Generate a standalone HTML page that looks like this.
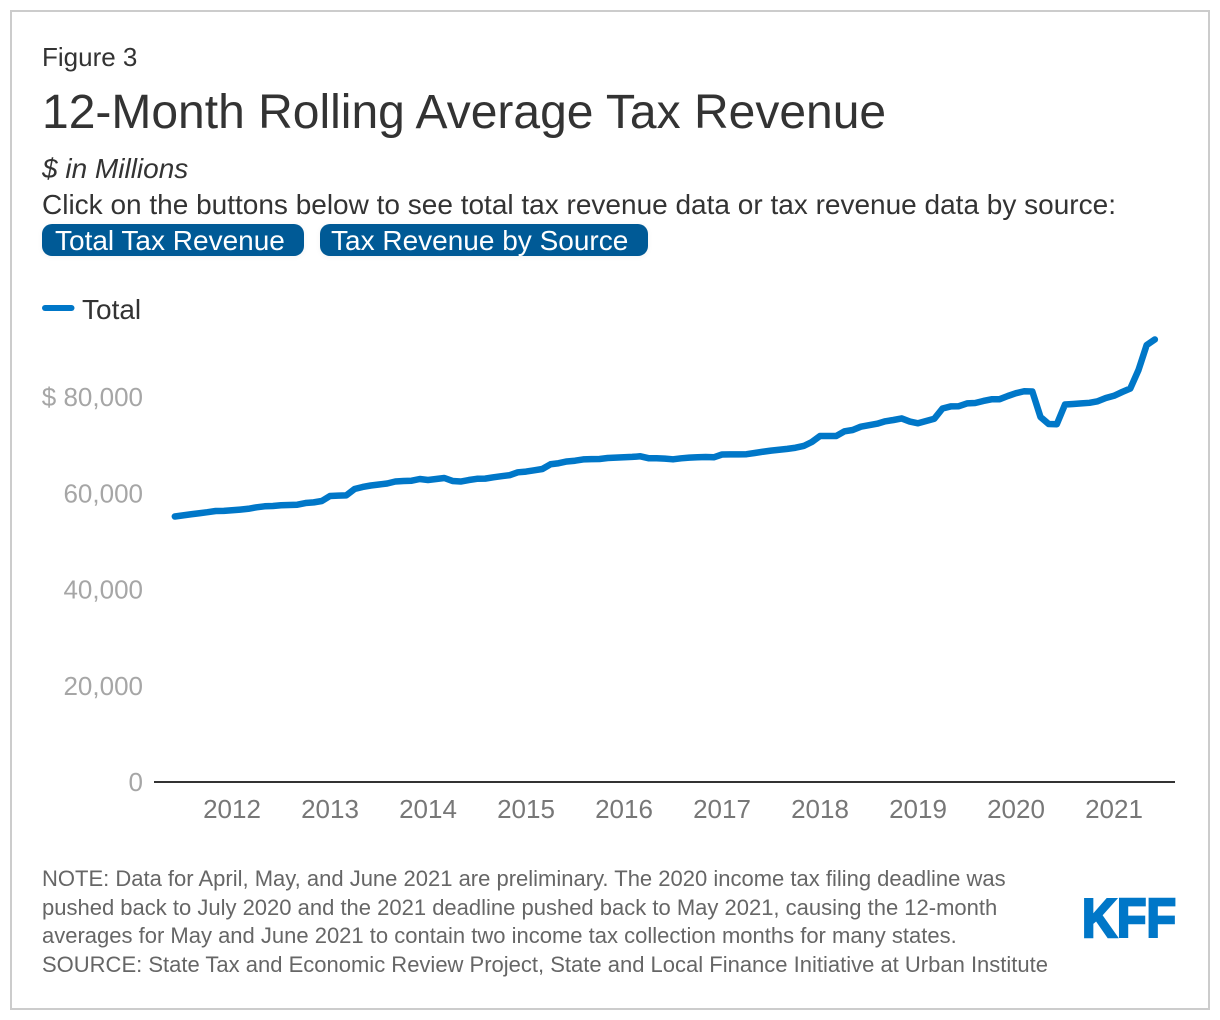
<!DOCTYPE html>
<html lang="en">
<head>
<meta charset="utf-8">
<title>12-Month Rolling Average Tax Revenue</title>
<style>
html,body{margin:0;padding:0;background:#fff;width:1220px;height:1020px;overflow:hidden;font-family:"Liberation Sans",sans-serif;}
#frame{position:absolute;left:10px;top:10px;width:1196px;height:996px;border:2px solid #ccc;background:#fff;}
.t{position:absolute;white-space:nowrap;color:#333;line-height:1;}
.btn{position:absolute;top:224px;height:32px;background:#005a96;border-radius:10px;color:#fff;font-size:28px;line-height:33px;white-space:nowrap;box-sizing:border-box;box-shadow:0 1px 6px rgba(0,0,0,.05);font-family:"Liberation Sans",sans-serif;border:0;padding:0;text-align:left;}
#chart{position:absolute;left:0;top:0;}
</style>
</head>
<body>
<div id="frame"></div>
<div class="t" style="left:42px;top:44px;font-size:26px">Figure 3</div>
<div class="t" style="left:42px;top:89px;font-size:48px">12-Month Rolling Average Tax Revenue</div>
<div class="t" style="left:42px;top:155px;font-size:28px;font-style:italic">$ in Millions</div>
<div class="t" style="left:42px;top:191px;font-size:28px">Click on the buttons below to see total tax revenue data or tax revenue data by source:</div>
<button class="btn" style="left:42px;width:262px;padding-left:13px">Total Tax Revenue</button>
<button class="btn" style="left:320px;width:328px;padding-left:11px">Tax Revenue by Source</button>

<svg id="chart" width="1220" height="1020" viewBox="0 0 1220 1020" xmlns="http://www.w3.org/2000/svg">
  <line x1="45" y1="308" x2="71.5" y2="308" stroke="#0077c8" stroke-width="6" stroke-linecap="round"/>
  <text x="82" y="319" font-size="28" fill="#333" font-family="Liberation Sans, sans-serif">Total</text>
  <g id="y-axis"></g>
  <g id="x-axis"></g>
  <line x1="154" y1="782" x2="1175" y2="782" stroke="#333" stroke-width="2"/>
  <path id="series-line" fill="none" stroke="#0077c8" stroke-width="6.5" stroke-linecap="round" stroke-linejoin="round"/>
  <text x="1082" y="937" font-size="55" font-weight="bold" fill="#0077c8" stroke="#0077c8" stroke-width="2.6" textLength="94" lengthAdjust="spacingAndGlyphs" font-family="Liberation Sans, sans-serif">KFF</text>
</svg>

<div class="t" style="left:42px;top:865px;font-size:22px;color:#666;line-height:28.5px">NOTE: Data for April, May, and June 2021 are preliminary. The 2020 income tax filing deadline was<br>pushed back to July 2020 and the 2021 deadline pushed back to May 2021, causing the 12-month<br>averages for May and June 2021 to contain two income tax collection months for many states.<br>SOURCE: State Tax and Economic Review Project, State and Local Finance Initiative at Urban Institute</div>

<script>
// Monthly values, June 2011 through June 2021 ($ millions)
var startYear = 2011;
var startMonth = 5;
var totalRevenue = [
55170,55400,55630,55850,56060,56310,56330,
56460,56600,56770,57080,57290,57350,57500,57560,57620,57970,58100,58390,
59430,59510,59570,60880,61300,61610,61820,62030,62440,62550,62610,62960,
62750,62960,63170,62550,62440,62750,63000,63040,63310,63540,63750,64350,
64500,64770,65040,66020,66240,66600,66760,67030,67080,67120,67320,67410,
67490,67550,67680,67280,67280,67200,67050,67260,67410,67490,67530,67470,
68050,68070,68090,68110,68360,68630,68860,69030,69220,69460,69820,70650,
71900,71900,71900,72870,73140,73830,74140,74450,74950,75220,75550,74890,
74540,75010,75490,77610,78040,78090,78670,78750,79170,79520,79540,80210,
80790,81190,81140,75840,74390,74350,78440,78550,78670,78790,79110,79790,
80250,81040,81770,85610,90800,91950
];
var yTicks = [0, 20000, 40000, 60000, 80000];
var yTickLabels = ["0", "20,000", "40,000", "60,000", "$ 80,000"];
var xTicks = [2012, 2013, 2014, 2015, 2016, 2017, 2018, 2019, 2020, 2021];

function xScale(t) { return 232 + (t - 2012) * 98; }
function yScale(v) { return 782 - v * 0.0048125; }

var svgNS = "http://www.w3.org/2000/svg";
var yAxis = document.getElementById("y-axis");
yTicks.forEach(function (v, i) {
  var el = document.createElementNS(svgNS, "text");
  el.setAttribute("x", 143);
  el.setAttribute("y", yScale(v) + 9);
  el.setAttribute("text-anchor", "end");
  el.setAttribute("font-size", "26");
  el.setAttribute("fill", "#a6a6a6");
  el.setAttribute("font-family", "Liberation Sans, sans-serif");
  
  
  el.textContent = yTickLabels[i];
  yAxis.appendChild(el);
});
var xAxis = document.getElementById("x-axis");
xTicks.forEach(function (yr) {
  var el = document.createElementNS(svgNS, "text");
  el.setAttribute("x", xScale(yr));
  el.setAttribute("y", 818);
  el.setAttribute("text-anchor", "middle");
  el.setAttribute("font-size", "26");
  el.setAttribute("fill", "#777");
  el.setAttribute("font-family", "Liberation Sans, sans-serif");
  
  
  el.textContent = yr;
  xAxis.appendChild(el);
});
var d = "";
totalRevenue.forEach(function (v, i) {
  var t = startYear + (startMonth + i) / 12;
  d += (i ? "L" : "M") + xScale(t).toFixed(2) + " " + yScale(v).toFixed(2);
});
document.getElementById("series-line").setAttribute("d", d);
</script>
</body>
</html>
